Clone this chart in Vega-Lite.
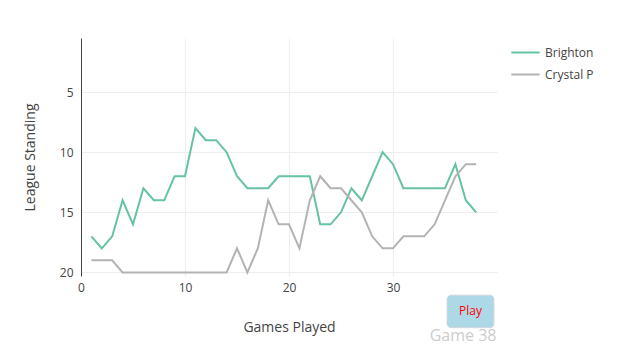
{
  "$schema": "https://vega.github.io/schema/vega-lite/v6.json",
  "autosize": {"type": "none"},
  "padding": {"left": 81, "top": 38, "right": 128, "bottom": 76},
  "width": 416,
  "height": 238,
  "background": "white",
  "config": {
    "font": "Open Sans",
    "view": {"stroke": null},
    "axis": {"labelFont": "Open Sans", "titleFont": "Open Sans", "labelColor": "#444", "titleColor": "#444", "labelFontSize": 12, "titleFontSize": 14, "titleFontWeight": "normal", "gridColor": "#eee", "ticks": false},
    "legend": {"labelFont": "Open Sans", "labelFontSize": 12, "labelColor": "#444"}
  },
  "layer": [
    {
      "data": {"values": [
        {"game":1,"team":"Brighton","standing":17},{"game":2,"team":"Brighton","standing":18},{"game":3,"team":"Brighton","standing":17},{"game":4,"team":"Brighton","standing":14},{"game":5,"team":"Brighton","standing":16},{"game":6,"team":"Brighton","standing":13},{"game":7,"team":"Brighton","standing":14},{"game":8,"team":"Brighton","standing":14},{"game":9,"team":"Brighton","standing":12},{"game":10,"team":"Brighton","standing":12},
        {"game":11,"team":"Brighton","standing":8},{"game":12,"team":"Brighton","standing":9},{"game":13,"team":"Brighton","standing":9},{"game":14,"team":"Brighton","standing":10},{"game":15,"team":"Brighton","standing":12},{"game":16,"team":"Brighton","standing":13},{"game":17,"team":"Brighton","standing":13},{"game":18,"team":"Brighton","standing":13},{"game":19,"team":"Brighton","standing":12},{"game":20,"team":"Brighton","standing":12},
        {"game":21,"team":"Brighton","standing":12},{"game":22,"team":"Brighton","standing":12},{"game":23,"team":"Brighton","standing":16},{"game":24,"team":"Brighton","standing":16},{"game":25,"team":"Brighton","standing":15},{"game":26,"team":"Brighton","standing":13},{"game":27,"team":"Brighton","standing":14},{"game":28,"team":"Brighton","standing":12},{"game":29,"team":"Brighton","standing":10},{"game":30,"team":"Brighton","standing":11},
        {"game":31,"team":"Brighton","standing":13},{"game":32,"team":"Brighton","standing":13},{"game":33,"team":"Brighton","standing":13},{"game":34,"team":"Brighton","standing":13},{"game":35,"team":"Brighton","standing":13},{"game":36,"team":"Brighton","standing":11},{"game":37,"team":"Brighton","standing":14},{"game":38,"team":"Brighton","standing":15},
        {"game":1,"team":"Crystal P","standing":19},{"game":2,"team":"Crystal P","standing":19},{"game":3,"team":"Crystal P","standing":19},{"game":4,"team":"Crystal P","standing":20},{"game":5,"team":"Crystal P","standing":20},{"game":6,"team":"Crystal P","standing":20},{"game":7,"team":"Crystal P","standing":20},{"game":8,"team":"Crystal P","standing":20},{"game":9,"team":"Crystal P","standing":20},{"game":10,"team":"Crystal P","standing":20},
        {"game":11,"team":"Crystal P","standing":20},{"game":12,"team":"Crystal P","standing":20},{"game":13,"team":"Crystal P","standing":20},{"game":14,"team":"Crystal P","standing":20},{"game":15,"team":"Crystal P","standing":18},{"game":16,"team":"Crystal P","standing":20},{"game":17,"team":"Crystal P","standing":18},{"game":18,"team":"Crystal P","standing":14},{"game":19,"team":"Crystal P","standing":16},{"game":20,"team":"Crystal P","standing":16},
        {"game":21,"team":"Crystal P","standing":18},{"game":22,"team":"Crystal P","standing":14},{"game":23,"team":"Crystal P","standing":12},{"game":24,"team":"Crystal P","standing":13},{"game":25,"team":"Crystal P","standing":13},{"game":26,"team":"Crystal P","standing":14},{"game":27,"team":"Crystal P","standing":15},{"game":28,"team":"Crystal P","standing":17},{"game":29,"team":"Crystal P","standing":18},{"game":30,"team":"Crystal P","standing":18},
        {"game":31,"team":"Crystal P","standing":17},{"game":32,"team":"Crystal P","standing":17},{"game":33,"team":"Crystal P","standing":17},{"game":34,"team":"Crystal P","standing":16},{"game":35,"team":"Crystal P","standing":14},{"game":36,"team":"Crystal P","standing":12},{"game":37,"team":"Crystal P","standing":11},{"game":38,"team":"Crystal P","standing":11}
      ]},
      "mark": {"type": "line", "strokeWidth": 2},
      "encoding": {
        "x": {"field": "game", "type": "quantitative", "title": "Games Played", "scale": {"domain": [0, 40], "nice": false, "zero": false}, "axis": {"values": [0, 10, 20, 30], "domain": false, "labelFlush": false, "labelPadding": 6, "titlePadding": 27}},
        "y": {"field": "standing", "type": "quantitative", "title": "League Standing", "scale": {"domain": [20.3, 0.5], "nice": false, "zero": false}, "axis": {"values": [5, 10, 15, 20], "domain": true, "domainColor": "#444", "labelFlush": false, "labelPadding": 8, "titlePadding": 22}},
        "color": {"field": "team", "type": "nominal", "scale": {"domain": ["Brighton", "Crystal P"], "range": ["#66c2a5", "#b3b3b3"]}, "legend": {"title": null, "orient": "none", "legendX": 429, "legendY": -1, "symbolType": "stroke", "symbolSize": 800, "symbolStrokeWidth": 2, "rowPadding": -3, "labelOffset": 4, "padding": 0}}
      }
    },
    {
      "data": {"values": [{}]},
      "mark": {"type": "rect", "fill": "#add8e6", "stroke": "#d0d6dc", "cornerRadius": 4},
      "encoding": {"x": {"datum": 35.2}, "x2": {"datum": 39.7}, "y": {"datum": 21.9}, "y2": {"datum": 24.6}}
    },
    {
      "data": {"values": [{}]},
      "mark": {"type": "text", "text": "Play", "fill": "red", "fontSize": 12, "fontWeight": "normal", "font": "Open Sans", "baseline": "middle"},
      "encoding": {"x": {"datum": 37.45}, "y": {"datum": 23.25}}
    },
    {
      "data": {"values": [{}]},
      "mark": {"type": "text", "text": "Game 38", "fill": "#ccc", "fontSize": 16, "fontWeight": "normal", "font": "Open Sans", "align": "right", "baseline": "middle"},
      "encoding": {"x": {"datum": 39.95}, "y": {"datum": 25.3}}
    }
  ]
}
